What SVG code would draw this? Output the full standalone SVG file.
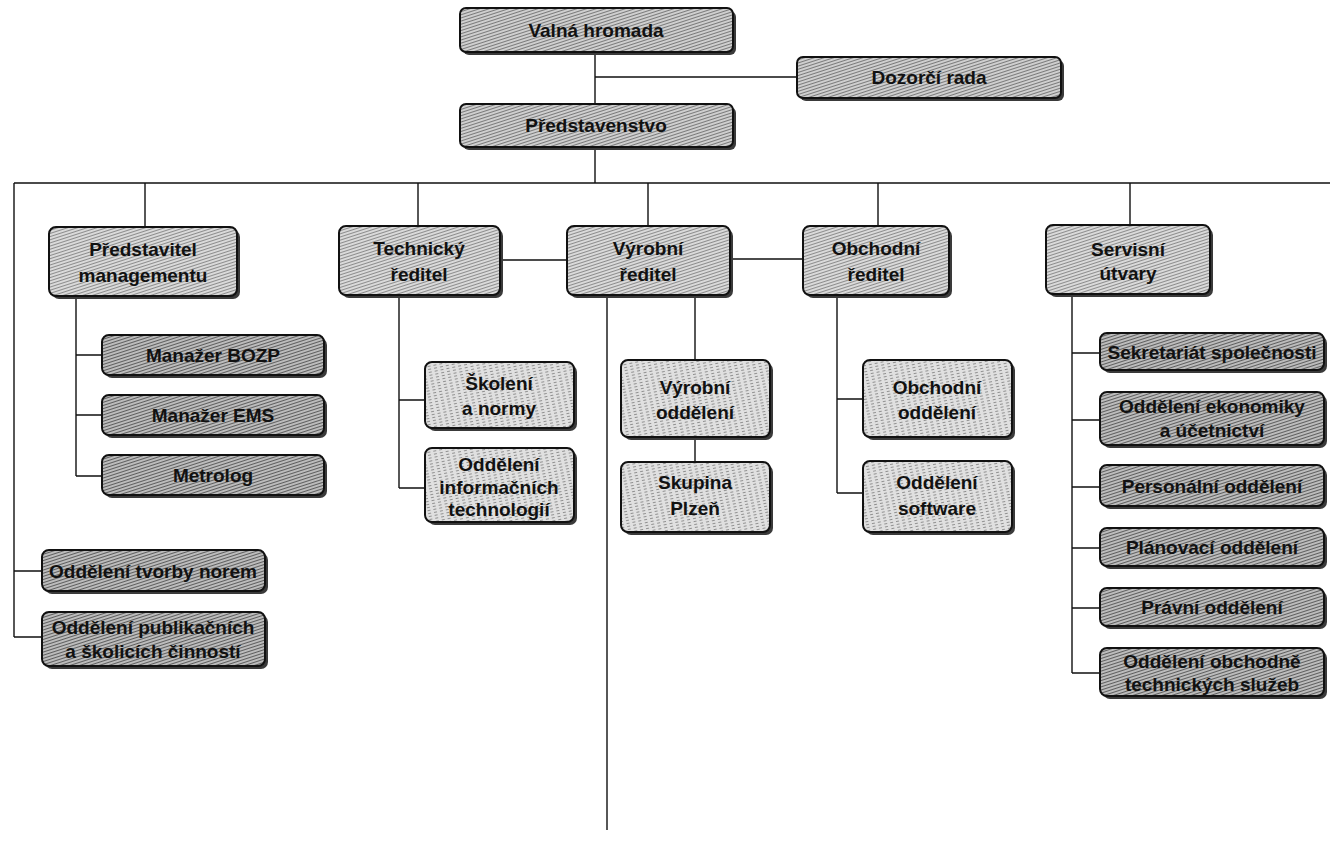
<svg xmlns="http://www.w3.org/2000/svg" width="1337" height="853" viewBox="0 0 1337 853">
<style>
.bx{stroke:#111;stroke-width:2}
.sh{fill:#3a3a3a}
.top{fill:url(#hTop)}
.dir{fill:url(#hDir)}
.lt{fill:url(#hLt)}
.dk{fill:url(#hDk)}
text{font-family:"Liberation Sans",Arial,sans-serif;font-weight:bold;font-size:19px;fill:#111;text-anchor:middle;dominant-baseline:central}
.cn{fill:none;stroke:#111;stroke-width:1.4}
</style>
<defs>
<pattern id="hTop" patternUnits="userSpaceOnUse" width="6" height="3" patternTransform="rotate(-18)"><rect width="6" height="3" fill="#cfcfcf"/><rect width="6" height="1" fill="#7a7a7a"/></pattern>
<pattern id="hDir" patternUnits="userSpaceOnUse" width="6" height="3" patternTransform="rotate(-18)"><rect width="6" height="3" fill="#dadada"/><rect width="6" height="1" fill="#8c8c8c"/></pattern>
<pattern id="hLt" patternUnits="userSpaceOnUse" width="6" height="3" patternTransform="rotate(-12)"><rect width="6" height="3" fill="#e0e0e0"/><rect width="3" height="1" fill="#909090"/></pattern>
<pattern id="hDk" patternUnits="userSpaceOnUse" width="6" height="3" patternTransform="rotate(-18)"><rect width="6" height="3" fill="#bcbcbc"/><rect width="6" height="1" fill="#5e5e5e"/></pattern>
</defs>
<rect width="1337" height="853" fill="#fff"/>
<g id="connectors" class="cn">
<path d="M595,52V104M595,77H797M595,147V183M14,183H1330"/>
<path d="M14,183V637M14,571H42M14,637H42"/>
<path d="M145,183V227M418,183V226M648,183V226M878,183V226M1130,183V225"/>
<path d="M76,298V476M76,355H102M76,415H102M76,476H102"/>
<path d="M399,297V488M399,400H425M399,488H425"/>
<path d="M503,260H567M733,259H803"/>
<path d="M607,297V830M695,297V360M695,440V462"/>
<path d="M837,297V493M837,399H863M837,493H863"/>
<path d="M1072,296V673M1072,353H1100M1072,420H1100M1072,487H1100M1072,548H1100M1072,608H1100M1072,673H1100"/>
</g>
<g id="n1"><rect class="sh" x="463" y="11" width="273" height="44" rx="6"/><rect class="bx top" x="460" y="8" width="273" height="44" rx="6"/><text x="596" y="30">Valná hromada</text></g>
<g id="n2"><rect class="sh" x="800" y="60" width="264" height="41" rx="6"/><rect class="bx top" x="797" y="57" width="264" height="41" rx="6"/><text x="929" y="77">Dozorčí rada</text></g>
<g id="n3"><rect class="sh" x="463" y="107" width="273" height="43" rx="6"/><rect class="bx top" x="460" y="104" width="273" height="43" rx="6"/><text x="596" y="125">Představenstvo</text></g>
<g id="n4"><rect class="sh" x="52" y="230" width="188" height="69" rx="7"/><rect class="bx dir" x="49" y="227" width="188" height="69" rx="7"/><text x="143" y="249">Představitel</text><text x="143" y="275">managementu</text></g>
<g id="n5"><rect class="sh" x="342" y="229" width="161" height="69" rx="7"/><rect class="bx dir" x="339" y="226" width="161" height="69" rx="7"/><text x="419" y="248">Technický</text><text x="419" y="274">ředitel</text></g>
<g id="n6"><rect class="sh" x="570" y="229" width="163" height="69" rx="7"/><rect class="bx dir" x="567" y="226" width="163" height="69" rx="7"/><text x="648" y="248">Výrobní</text><text x="648" y="274">ředitel</text></g>
<g id="n7"><rect class="sh" x="806" y="229" width="146" height="69" rx="7"/><rect class="bx dir" x="803" y="226" width="146" height="69" rx="7"/><text x="876" y="248">Obchodní</text><text x="876" y="274">ředitel</text></g>
<g id="n8"><rect class="sh" x="1049" y="228" width="164" height="69" rx="7"/><rect class="bx dir" x="1046" y="225" width="164" height="69" rx="7"/><text x="1128" y="249">Servisní</text><text x="1128" y="273">útvary</text></g>
<g id="n9"><rect class="sh" x="105" y="338" width="222" height="40" rx="7"/><rect class="bx dk" x="102" y="335" width="222" height="40" rx="7"/><text x="213" y="355">Manažer BOZP</text></g>
<g id="n10"><rect class="sh" x="105" y="398" width="222" height="40" rx="7"/><rect class="bx dk" x="102" y="395" width="222" height="40" rx="7"/><text x="213" y="415">Manažer EMS</text></g>
<g id="n11"><rect class="sh" x="105" y="458" width="222" height="40" rx="7"/><rect class="bx dk" x="102" y="455" width="222" height="40" rx="7"/><text x="213" y="475">Metrolog</text></g>
<g id="n12"><rect class="sh" x="428" y="365" width="149" height="66" rx="7"/><rect class="bx lt" x="425" y="362" width="149" height="66" rx="7"/><text x="499" y="383">Školení</text><text x="499" y="408">a normy</text></g>
<g id="n13"><rect class="sh" x="428" y="451" width="149" height="74" rx="7"/><rect class="bx lt" x="425" y="448" width="149" height="74" rx="7"/><text x="499" y="464">Oddělení</text><text x="499" y="487">informačních</text><text x="499" y="509">technologií</text></g>
<g id="n14"><rect class="sh" x="624" y="363" width="149" height="77" rx="7"/><rect class="bx lt" x="621" y="360" width="149" height="77" rx="7"/><text x="695" y="387">Výrobní</text><text x="695" y="412">oddělení</text></g>
<g id="n15"><rect class="sh" x="624" y="465" width="149" height="70" rx="7"/><rect class="bx lt" x="621" y="462" width="149" height="70" rx="7"/><text x="695" y="482">Skupina</text><text x="695" y="508">Plzeň</text></g>
<g id="n16"><rect class="sh" x="866" y="363" width="149" height="77" rx="7"/><rect class="bx lt" x="863" y="360" width="149" height="77" rx="7"/><text x="937" y="387">Obchodní</text><text x="937" y="412">oddělení</text></g>
<g id="n17"><rect class="sh" x="866" y="464" width="149" height="71" rx="7"/><rect class="bx lt" x="863" y="461" width="149" height="71" rx="7"/><text x="937" y="482">Oddělení</text><text x="937" y="508">software</text></g>
<g id="n18"><rect class="sh" x="1103" y="336" width="224" height="37" rx="7"/><rect class="bx dk" x="1100" y="333" width="224" height="37" rx="7"/><text x="1212" y="352">Sekretariát společnosti</text></g>
<g id="n19"><rect class="sh" x="1103" y="395" width="224" height="53" rx="7"/><rect class="bx dk" x="1100" y="392" width="224" height="53" rx="7"/><text x="1212" y="406">Oddělení ekonomiky</text><text x="1212" y="430">a účetnictví</text></g>
<g id="n20"><rect class="sh" x="1103" y="468" width="224" height="41" rx="7"/><rect class="bx dk" x="1100" y="465" width="224" height="41" rx="7"/><text x="1212" y="486">Personální oddělení</text></g>
<g id="n21"><rect class="sh" x="1103" y="531" width="224" height="38" rx="7"/><rect class="bx dk" x="1100" y="528" width="224" height="38" rx="7"/><text x="1212" y="547">Plánovací oddělení</text></g>
<g id="n22"><rect class="sh" x="1103" y="591" width="224" height="38" rx="7"/><rect class="bx dk" x="1100" y="588" width="224" height="38" rx="7"/><text x="1212" y="607">Právní oddělení</text></g>
<g id="n23"><rect class="sh" x="1103" y="651" width="224" height="48" rx="7"/><rect class="bx dk" x="1100" y="648" width="224" height="48" rx="7"/><text x="1212" y="661">Oddělení obchodně</text><text x="1212" y="684">technických služeb</text></g>
<g id="n24"><rect class="sh" x="45" y="553" width="223" height="41" rx="7"/><rect class="bx dk" x="42" y="550" width="223" height="41" rx="7"/><text x="153" y="571">Oddělení tvorby norem</text></g>
<g id="n25"><rect class="sh" x="45" y="615" width="223" height="54" rx="7"/><rect class="bx dk" x="42" y="612" width="223" height="54" rx="7"/><text x="153" y="627">Oddělení publikačních</text><text x="153" y="651">a školicích činností</text></g>
</svg>
